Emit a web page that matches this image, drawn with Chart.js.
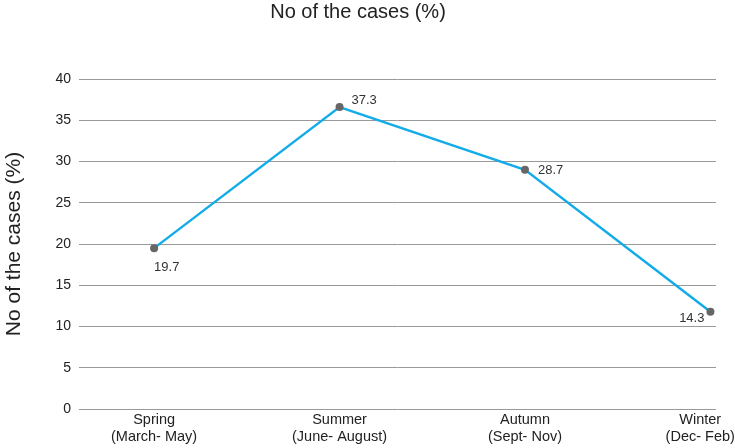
<!DOCTYPE html>
<html>
<head>
<meta charset="utf-8">
<script src="https://cdn.jsdelivr.net/npm/chart.js@4"></script>
<style>
  html, body { margin: 0; padding: 0; background: #fff; }
  #wrap { width: 735px; height: 448px; position: relative; }
</style>
</head>
<body>
<div id="wrap"><canvas id="c"></canvas></div>
<script>
// ---- data ----
const categories = [
  ["Spring", "(March- May)"],
  ["Summer", "(June- August)"],
  ["Autumn", "(Sept- Nov)"],
  ["Winter", "(Dec- Feb)"]
];
const values = [19.5, 36.6, 29.0, 11.8];          // plotted positions
const valueLabels = ["19.7", "37.3", "28.7", "14.3"]; // labels as printed in the picture
const yTicks = [0, 5, 10, 15, 20, 25, 30, 35, 40];
const chartTitle = "No of the cases (%)";
const yTitle = "No of the cases (%)";

// ---- data label plugin ----
const labelPlacement = [
  { dx: 0, dy: 19, align: "left" },
  { dx: 12, dy: -7, align: "left" },
  { dx: 13, dy: 1, align: "left" },
  { dx: -6, dy: 7, align: "right" }
];
const dataLabels = {
  id: "dataLabels",
  afterDatasetsDraw(chart) {
    const ctx = chart.ctx;
    const meta = chart.getDatasetMeta(0);
    ctx.save();
    ctx.font = "13px 'Liberation Sans', Arial, sans-serif";
    ctx.fillStyle = "#333";
    ctx.textBaseline = "middle";
    meta.data.forEach((pt, i) => {
      const p = labelPlacement[i];
      ctx.textAlign = p.align;
      ctx.fillText(valueLabels[i], pt.x + p.dx, pt.y + p.dy);
    });
    ctx.restore();
  }
};

const font = "'Liberation Sans', Arial, sans-serif";

new Chart(document.getElementById("c"), {
  type: "line",
  data: {
    datasets: [{
      data: values.map((v, i) => ({ x: i, y: v })),
      borderColor: "#14ACE8",
      borderWidth: 2.5,
      pointBackgroundColor: "#666",
      pointBorderWidth: 0,
      pointRadius: 4,
      tension: 0
    }]
  },
  options: {
    responsive: true,
    maintainAspectRatio: false,
    animation: false,
    layout: { padding: { left: 0, right: 19, top: 0, bottom: 0 } },
    plugins: {
      legend: { display: false },
      tooltip: { enabled: false },
      title: {
        display: true,
        text: chartTitle,
        color: "#222",
        font: { family: font, size: 20, weight: "normal" },
        padding: { top: 0, bottom: 55 }
      }
    },
    scales: {
      x: {
        type: "linear",
        min: -0.405,
        max: 3.03,
        grid: { display: false, drawTicks: false },
        border: { display: false },
        afterBuildTicks(scale) {
          // last label nudged inward so it stays inside the canvas, as in the reference
          scale.ticks = categories.map((c, i) => ({ value: i === categories.length - 1 ? i - 0.055 : i }));
        },
        ticks: {
          color: "#222",
          padding: 2,
          maxRotation: 0,
          autoSkip: false,
          font: { family: font, size: 14.5, lineHeight: 1.2 },
          callback: (v) => categories[Math.round(v)]
        },
        afterFit(scale) {
          scale.height = 39;
          scale.paddingLeft = 0;
          scale.paddingRight = 0;
        }
      },
      y: {
        min: 0,
        max: 40,
        afterBuildTicks(scale) {
          scale.ticks = yTicks.map(v => ({ value: v }));
        },
        grid: { color: "#999", lineWidth: 1, drawTicks: false },
        border: { display: false },
        ticks: {
          color: "#222",
          padding: 8,
          font: { family: font, size: 14 }
        },
        title: {
          display: true,
          text: yTitle,
          color: "#222",
          font: { family: font, size: 21, weight: "normal" },
          padding: { top: 2, bottom: 0 }
        },
        afterFit(scale) {
          scale.width = 79;
        }
      }
    }
  },
  plugins: [dataLabels]
});
</script>
</body>
</html>
